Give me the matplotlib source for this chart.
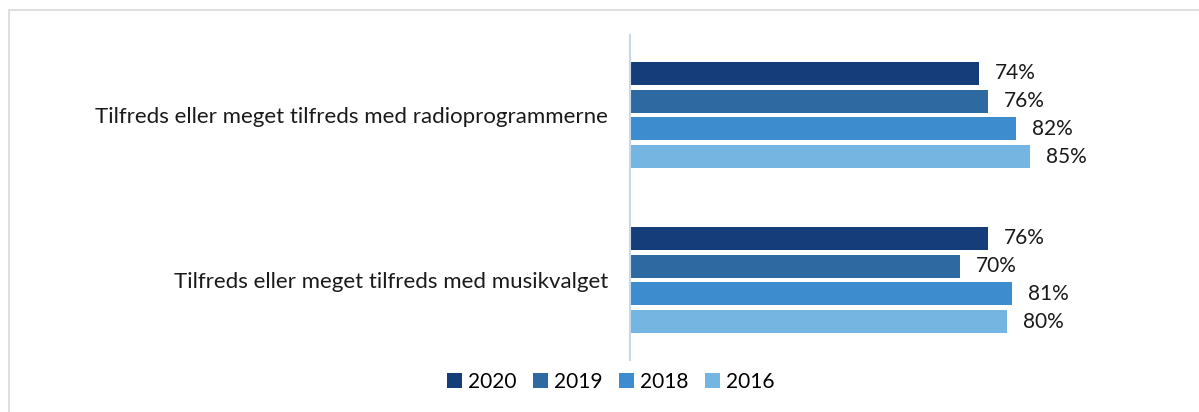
import matplotlib.pyplot as plt
from matplotlib.patches import Rectangle
import numpy as np

plt.rcParams['font.family'] = ['Lato', 'DejaVu Sans']

categories = ["Tilfreds eller meget tilfreds med radioprogrammerne",
              "Tilfreds eller meget tilfreds med musikvalget"]
years = ["2020", "2019", "2018", "2016"]
values = {
    "2020": [74, 76],
    "2019": [76, 70],
    "2018": [82, 81],
    "2016": [85, 80],
}
colors = ["#143D7A", "#2E6AA1", "#3D8CCD", "#75B5E2"]

fig = plt.figure(figsize=(11.99, 4.12), dpi=100)
ax = fig.add_axes([630 / 1199, 1 - 360 / 412, 471 / 1199, 325 / 412])

# light frame around the chart area
fig.patches.append(Rectangle((9 / 1199, -0.05), 1.2, 1 - 10 / 412 + 0.05,
                             transform=fig.transFigure, fill=False,
                             edgecolor="#D9D9D9", linewidth=1.2))

y = np.arange(len(categories))
step = 0.168
h = 0.14
for i, yr in enumerate(years):
    pos = y + (i - 1.5) * step
    ax.barh(pos, values[yr], height=h, color=colors[i], label=yr)
    for p, v in zip(pos, values[yr]):
        ax.text(v + 3.4, p, f"{v}%", va="center", ha="left", fontsize=15, color="#1a1a1a")

ax.set_xlim(0, 100)
ax.set_ylim(1.485, -0.485)
ax.set_yticks(y)
ax.set_yticklabels(categories, fontsize=16, color="#1a1a1a")
ax.tick_params(axis="y", length=0, pad=16)
ax.set_xticks([])
for s in ["top", "right", "bottom"]:
    ax.spines[s].set_visible(False)
ax.spines["left"].set_color("#C5D9EC")
ax.spines["left"].set_linewidth(1.5)

ax.legend(loc="center", bbox_to_anchor=(611 / 1199, 1 - 382 / 412),
          bbox_transform=fig.transFigure, ncol=4, frameon=False,
          fontsize=15, handlelength=0.7, handleheight=0.7, handletextpad=0.3,
          columnspacing=0.8)

fig.savefig("out.png", dpi=100, facecolor="white")
